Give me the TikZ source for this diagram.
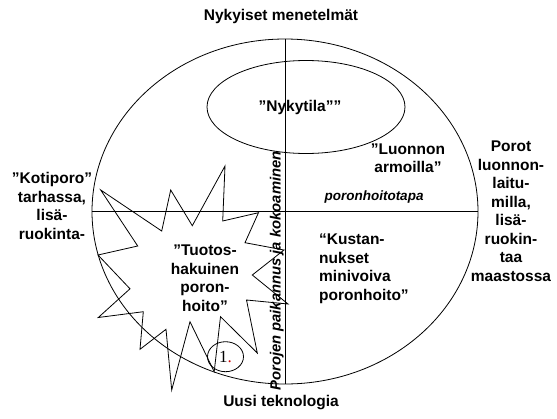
\documentclass[tikz,border=0pt]{standalone}
\usepackage{fontspec}
\usetikzlibrary{shapes.geometric}
\newfontfamily\arial{Liberation Sans}
\newfontfamily\numserif{Liberation Serif}
\begin{document}
\begin{tikzpicture}[x=1pt,y=-1pt,
  lab/.style={font=\arial\bfseries\fontsize{15.5}{18.5}\selectfont, inner sep=0pt, align=center},
  ital/.style={font=\arial\bfseries\itshape\fontsize{13.5}{16}\selectfont, inner sep=0pt},
  oval/.style={ellipse, draw, line width=0.8pt, inner sep=0pt},
  ln/.style={line width=0.8pt}]
\useasboundingbox (0,0) rectangle (557,418);
% big ellipse and axes
\node[oval, minimum width=386pt, minimum height=345pt] (big) at (285,211.5) {};
\draw[ln] (big.north) -- (big.south);
\draw[ln] (big.west) -- (big.east);
% present-state ellipse
\node[oval, minimum width=198pt, minimum height=93pt] (now) at (306,107) {};
% star
\draw[ln, line join=miter] (100.7,190) -- (161.7,231) -- (170.7,190) -- (192.3,225.7) -- (225,166)
  -- (222.7,221) -- (258.5,212.7) -- (245,242.7) -- (284,250) -- (252.3,275)
  -- (288,304) -- (246.5,300) -- (257.3,353) -- (220.5,316.7) -- (214.2,371.7)
  -- (190,321.7) -- (171.7,390) -- (166,329.3) -- (140,349.3) -- (143.3,311.7)
  -- (98.3,317.5) -- (130,288.8) -- (98,255) -- (137.7,246) -- cycle;
% small numbered ellipse
\node[oval, minimum width=36pt, minimum height=30pt] (one) at (225.5,356.7) {\numserif\fontsize{17}{19}\selectfont 1\textcolor{red!80!black}{.}};
% labels
\node[lab] (top) at (281,16) {Nykyiset menetelmät};
\node[lab] (bottom) at (281,403) {Uusi teknologia};
\node[lab] (nyky) at (300,107) {”Nykytila””};
\node[lab] (luonnon) at (408,158) {”Luonnon\\armoilla”};
\node[ital] (tapa) at (374,197) {poronhoitotapa};
\node[lab, align=left, anchor=west] (kustan) at (319,269) {“Kustan-\\nukset\\minivoiva\\poronhoito”};
\node[lab] (porot) at (511,211) {Porot\\luonnon-\\laitu-\\milla,\\lisä-\\ruokin-\\taa\\maastossa};
\node[lab] (koti) at (52,206) {”Kotiporo”\\tarhassa,\\lisä-\\ruokinta-};
\node[lab] (tuotos) at (205,278) {”Tuotos-\\hakuinen\\poron-\\hoito”};
\node[ital, font=\arial\bfseries\itshape\fontsize{14.8}{16}\selectfont, rotate=90, anchor=south] (paik) at (284,271) {Porojen paikannus ja kokoaminen};
\end{tikzpicture}
\end{document}
